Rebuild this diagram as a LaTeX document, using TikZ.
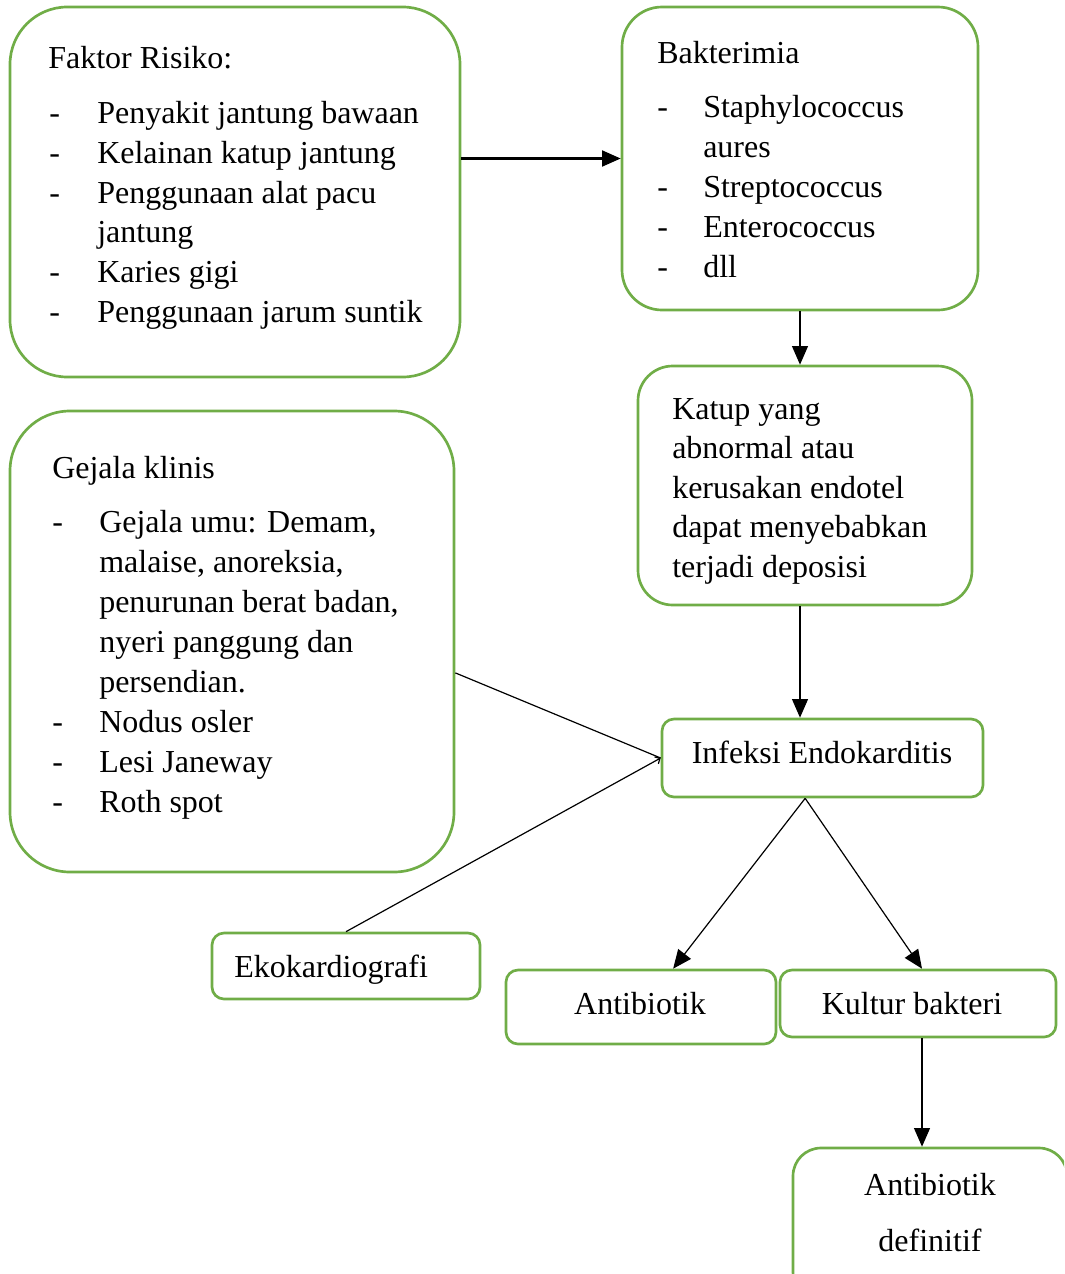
\documentclass[tikz,border=0pt]{standalone}
\usepackage{fontspec}
\setmainfont{Liberation Serif}
\usetikzlibrary{arrows.meta,fit}

\definecolor{boxgreen}{RGB}{112,173,71}

\begin{document}
\begin{tikzpicture}[x=0.75pt,y=-0.75pt,
    box/.style={draw=boxgreen,line width=2pt,inner sep=0pt,rounded corners=#1},
    box/.default=9pt,
    txt/.style={anchor=base west,inner sep=0pt,font=\fontsize{24pt}{30pt}\selectfont},
    ctxt/.style={txt,anchor=base},
    link/.style={line width=0.9pt},
    arr/.style={link,-{Triangle[length=14pt,width=12pt]}}]
    \clip (0,0) rectangle (1064,1274);

    % Boxes
    \node[box=43pt,fit={(10,7) (460,377)}] (faktor) {};
    \node[box=30pt,fit={(622,7) (978,310)}] (bakt) {};
    \node[box=26pt,fit={(638,366) (972,605)}] (katup) {};
    \node[box=45pt,fit={(10,411) (454,872)}] (gejala) {};
    \node[box,fit={(662,719) (983,797)}] (infeksi) {};
    \node[box,fit={(212,933) (480,999)}] (eko) {};
    \node[box,fit={(506,970) (776,1044)}] (antib) {};
    \node[box,fit={(780,970) (1056,1037)}] (kultur) {};
    \node[box=21pt,fit={(793,1148) (1067,1300)}] (defin) {};

    % Faktor risiko
    \node[txt] (faktortitle) at (48,68) {Faktor Risiko:};
    \foreach \y [count=\i] in {123,163,203,282,322}
        \node[txt] (fdash\i) at (49,\y) {-};
    \foreach \y/\t [count=\i] in {123/Penyakit jantung bawaan,163/Kelainan katup jantung,
        203/Penggunaan alat pacu,242/jantung,282/Karies gigi,322/Penggunaan jarum suntik}
        \node[txt] (fitem\i) at (97,\y) {\t};

    % Bakterimia
    \node[txt] (bakttitle) at (657,63) {Bakterimia};
    \foreach \y [count=\i] in {117,197,237,277}
        \node[txt] (bdash\i) at (657,\y) {-};
    \foreach \y/\t [count=\i] in {117/Staphylococcus,157/aures,197/Streptococcus,
        237/Enterococcus,277/dll}
        \node[txt] (bitem\i) at (703,\y) {\t};

    % Katup
    \foreach \y/\t [count=\i] in {419/Katup yang,458/abnormal atau,498/kerusakan endotel,
        537/dapat menyebabkan,577/terjadi deposisi}
        \node[txt] (kline\i) at (672,\y) {\t};

    % Gejala klinis
    \node[txt] (gejalatitle) at (52,478) {Gejala klinis};
    \foreach \y [count=\i] in {532,732,772,812}
        \node[txt] (gdash\i) at (52,\y) {-};
    \foreach \y/\t [count=\i] in {532/{Gejala umu: Demam,},572/{malaise, anoreksia,},
        612/{penurunan berat badan,},652/nyeri panggung dan,692/persendian.,
        732/Nodus osler,772/Lesi Janeway,812/Roth spot}
        \node[txt] (gitem\i) at (99,\y) {\t};

    % Small boxes
    \node[ctxt] (infekstxt) at (822,763) {Infeksi Endokarditis};
    \node[txt] (ekotxt) at (234,977) {Ekokardiografi};
    \node[ctxt] (antibtxt) at (640,1014) {Antibiotik};
    \node[ctxt] (kulturtxt) at (912,1014) {Kultur bakteri};
    \node[ctxt] (defintxta) at (930,1195) {Antibiotik};
    \node[ctxt] (defintxtb) at (930,1251) {definitif};

    % Arrows
    \draw[arr,line width=1.6pt] (faktor.east |- bakt.west) -- (bakt.west);
    \draw[arr] (bakt.south) -- (bakt.south |- katup.north);
    \draw[arr] (bakt.south |- katup.south) -- (bakt.south |- infeksi.north);
    \draw[link] (gejala.-8) -- (infeksi.west);
    \draw[link,-{Straight Barb[length=3pt,width=6pt]}] (eko.north) -- (infeksi.west);
    \coordinate (split) at ([xshift=-13pt]infeksi.south);
    \draw[arr] (split) -- (antib.50);
    \draw[arr] (split) -- ([xshift=3pt]kultur.north);
    \draw[arr] ([xshift=3pt]kultur.south) -- ([xshift=3pt]kultur.south |- defin.north);
\end{tikzpicture}
\end{document}
